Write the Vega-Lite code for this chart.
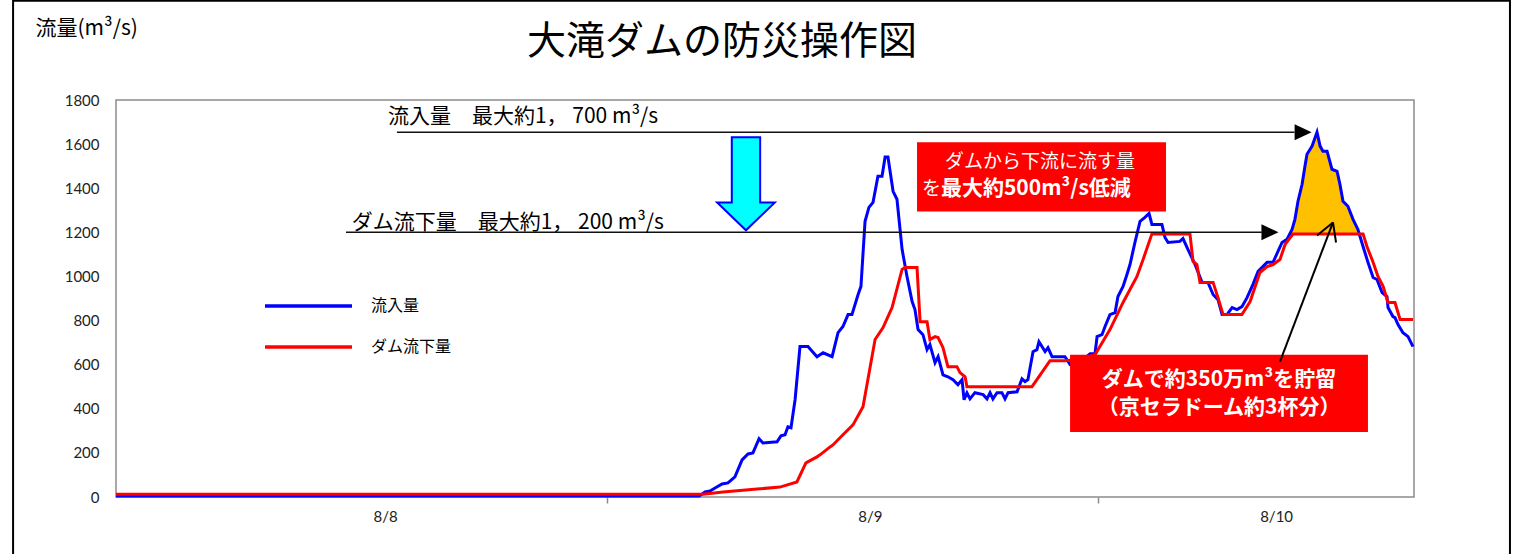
{
  "$schema": "https://vega.github.io/schema/vega-lite/v6.json",
  "width": 1298,
  "height": 397,
  "autosize": {"type": "none"},
  "padding": {"left": 116, "top": 100, "right": 103, "bottom": 57},
  "background": "white",
  "config": {
    "view": {"stroke": "#8c8c8c", "strokeWidth": 1.5},
    "font": "Noto Sans CJK JP"
  },
  "title": {
    "text": "大滝ダムの防災操作図",
    "anchor": "start",
    "frame": "group",
    "dx": 411,
    "offset": -93,
    "fontSize": 39,
    "fontWeight": "normal",
    "font": "Noto Sans CJK JP",
    "color": "#000000",
    "baseline": "alphabetic"
  },
  "datasets": {
    "flow": [
      {"h": 0, "v": 4, "s": "流入量"}, {"h": 28.5, "v": 4, "s": "流入量"}, {"h": 28.79, "v": 23, "s": "流入量"},
      {"h": 29.03, "v": 27, "s": "流入量"}, {"h": 29.28, "v": 41, "s": "流入量"}, {"h": 29.62, "v": 59, "s": "流入量"},
      {"h": 29.91, "v": 64, "s": "流入量"}, {"h": 30.25, "v": 91, "s": "流入量"}, {"h": 30.6, "v": 168, "s": "流入量"},
      {"h": 30.89, "v": 195, "s": "流入量"}, {"h": 31.13, "v": 200, "s": "流入量"}, {"h": 31.43, "v": 264, "s": "流入量"},
      {"h": 31.62, "v": 245, "s": "流入量"}, {"h": 32.31, "v": 250, "s": "流入量"}, {"h": 32.5, "v": 277, "s": "流入量"},
      {"h": 32.7, "v": 282, "s": "流入量"}, {"h": 32.84, "v": 318, "s": "流入量"}, {"h": 32.99, "v": 314, "s": "流入量"},
      {"h": 33.19, "v": 441, "s": "流入量"}, {"h": 33.43, "v": 682, "s": "流入量"}, {"h": 33.82, "v": 682, "s": "流入量"},
      {"h": 34.26, "v": 636, "s": "流入量"}, {"h": 34.56, "v": 654, "s": "流入量"}, {"h": 35.0, "v": 636, "s": "流入量"},
      {"h": 35.29, "v": 745, "s": "流入量"}, {"h": 35.53, "v": 773, "s": "流入量"}, {"h": 35.78, "v": 827, "s": "流入量"},
      {"h": 35.97, "v": 827, "s": "流入量"}, {"h": 36.27, "v": 918, "s": "流入量"}, {"h": 36.41, "v": 955, "s": "流入量"},
      {"h": 36.61, "v": 1250, "s": "流入量"}, {"h": 36.8, "v": 1313, "s": "流入量"}, {"h": 37.0, "v": 1336, "s": "流入量"},
      {"h": 37.24, "v": 1454, "s": "流入量"}, {"h": 37.44, "v": 1454, "s": "流入量"}, {"h": 37.59, "v": 1541, "s": "流入量"},
      {"h": 37.73, "v": 1541, "s": "流入量"}, {"h": 37.98, "v": 1386, "s": "流入量"}, {"h": 38.17, "v": 1350, "s": "流入量"},
      {"h": 38.42, "v": 1123, "s": "流入量"}, {"h": 38.66, "v": 1000, "s": "流入量"}, {"h": 38.91, "v": 886, "s": "流入量"},
      {"h": 39.05, "v": 850, "s": "流入量"}, {"h": 39.2, "v": 759, "s": "流入量"}, {"h": 39.44, "v": 736, "s": "流入量"},
      {"h": 39.64, "v": 668, "s": "流入量"}, {"h": 39.78, "v": 691, "s": "流入量"}, {"h": 40.03, "v": 609, "s": "流入量"},
      {"h": 40.18, "v": 636, "s": "流入量"}, {"h": 40.42, "v": 554, "s": "流入量"}, {"h": 40.66, "v": 545, "s": "流入量"},
      {"h": 40.91, "v": 532, "s": "流入量"}, {"h": 41.15, "v": 509, "s": "流入量"}, {"h": 41.35, "v": 532, "s": "流入量"},
      {"h": 41.45, "v": 441, "s": "流入量"}, {"h": 41.59, "v": 472, "s": "流入量"}, {"h": 41.74, "v": 445, "s": "流入量"},
      {"h": 41.98, "v": 473, "s": "流入量"}, {"h": 42.38, "v": 464, "s": "流入量"}, {"h": 42.57, "v": 445, "s": "流入量"},
      {"h": 42.72, "v": 473, "s": "流入量"}, {"h": 42.86, "v": 445, "s": "流入量"}, {"h": 43.06, "v": 473, "s": "流入量"},
      {"h": 43.3, "v": 473, "s": "流入量"}, {"h": 43.45, "v": 445, "s": "流入量"}, {"h": 43.6, "v": 473, "s": "流入量"},
      {"h": 44.04, "v": 477, "s": "流入量"}, {"h": 44.28, "v": 536, "s": "流入量"}, {"h": 44.43, "v": 523, "s": "流入量"},
      {"h": 44.57, "v": 532, "s": "流入量"}, {"h": 44.82, "v": 659, "s": "流入量"}, {"h": 45.01, "v": 668, "s": "流入量"},
      {"h": 45.11, "v": 704, "s": "流入量"}, {"h": 45.41, "v": 659, "s": "流入量"}, {"h": 45.55, "v": 677, "s": "流入量"},
      {"h": 45.75, "v": 636, "s": "流入量"}, {"h": 46.38, "v": 636, "s": "流入量"}, {"h": 46.63, "v": 600, "s": "流入量"},
      {"h": 47.1, "v": 610, "s": "流入量"}, {"h": 47.61, "v": 650, "s": "流入量"}, {"h": 47.85, "v": 650, "s": "流入量"},
      {"h": 47.95, "v": 727, "s": "流入量"}, {"h": 48.19, "v": 736, "s": "流入量"}, {"h": 48.34, "v": 773, "s": "流入量"},
      {"h": 48.58, "v": 827, "s": "流入量"}, {"h": 48.83, "v": 836, "s": "流入量"}, {"h": 48.97, "v": 909, "s": "流入量"},
      {"h": 49.22, "v": 955, "s": "流入量"}, {"h": 49.41, "v": 1009, "s": "流入量"}, {"h": 49.56, "v": 1054, "s": "流入量"},
      {"h": 49.8, "v": 1154, "s": "流入量"}, {"h": 50.05, "v": 1250, "s": "流入量"}, {"h": 50.29, "v": 1268, "s": "流入量"},
      {"h": 50.49, "v": 1286, "s": "流入量"}, {"h": 50.63, "v": 1236, "s": "流入量"}, {"h": 51.12, "v": 1236, "s": "流入量"},
      {"h": 51.27, "v": 1177, "s": "流入量"}, {"h": 51.42, "v": 1154, "s": "流入量"}, {"h": 52.0, "v": 1159, "s": "流入量"},
      {"h": 52.15, "v": 1172, "s": "流入量"}, {"h": 52.39, "v": 1123, "s": "流入量"}, {"h": 52.74, "v": 1054, "s": "流入量"},
      {"h": 53.08, "v": 973, "s": "流入量"}, {"h": 53.37, "v": 973, "s": "流入量"}, {"h": 53.62, "v": 918, "s": "流入量"},
      {"h": 53.86, "v": 895, "s": "流入量"}, {"h": 54.06, "v": 827, "s": "流入量"}, {"h": 54.3, "v": 827, "s": "流入量"},
      {"h": 54.55, "v": 859, "s": "流入量"}, {"h": 54.79, "v": 850, "s": "流入量"}, {"h": 55.03, "v": 863, "s": "流入量"},
      {"h": 55.28, "v": 904, "s": "流入量"}, {"h": 55.57, "v": 964, "s": "流入量"}, {"h": 55.82, "v": 1023, "s": "流入量"},
      {"h": 56.26, "v": 1064, "s": "流入量"}, {"h": 56.55, "v": 1064, "s": "流入量"}, {"h": 56.99, "v": 1154, "s": "流入量"},
      {"h": 57.23, "v": 1168, "s": "流入量"}, {"h": 57.48, "v": 1213, "s": "流入量"}, {"h": 57.62, "v": 1259, "s": "流入量"},
      {"h": 57.77, "v": 1341, "s": "流入量"}, {"h": 57.97, "v": 1418, "s": "流入量"}, {"h": 58.11, "v": 1500, "s": "流入量"},
      {"h": 58.21, "v": 1554, "s": "流入量"}, {"h": 58.46, "v": 1591, "s": "流入量"}, {"h": 58.7, "v": 1654, "s": "流入量"},
      {"h": 58.85, "v": 1591, "s": "流入量"}, {"h": 58.99, "v": 1568, "s": "流入量"}, {"h": 59.19, "v": 1568, "s": "流入量"},
      {"h": 59.43, "v": 1486, "s": "流入量"}, {"h": 59.68, "v": 1477, "s": "流入量"}, {"h": 59.82, "v": 1418, "s": "流入量"},
      {"h": 59.97, "v": 1341, "s": "流入量"}, {"h": 60.21, "v": 1318, "s": "流入量"}, {"h": 60.46, "v": 1259, "s": "流入量"},
      {"h": 60.7, "v": 1213, "s": "流入量"}, {"h": 60.95, "v": 1136, "s": "流入量"}, {"h": 61.19, "v": 1064, "s": "流入量"},
      {"h": 61.44, "v": 995, "s": "流入量"}, {"h": 61.63, "v": 986, "s": "流入量"}, {"h": 61.88, "v": 927, "s": "流入量"},
      {"h": 62.12, "v": 909, "s": "流入量"}, {"h": 62.17, "v": 859, "s": "流入量"}, {"h": 62.41, "v": 818, "s": "流入量"},
      {"h": 62.51, "v": 813, "s": "流入量"}, {"h": 62.66, "v": 782, "s": "流入量"}, {"h": 62.9, "v": 745, "s": "流入量"},
      {"h": 63.15, "v": 727, "s": "流入量"}, {"h": 63.39, "v": 682, "s": "流入量"},
      {"h": 0, "v": 12, "s": "ダム流下量"}, {"h": 28.69, "v": 12, "s": "ダム流下量"}, {"h": 29.67, "v": 23, "s": "ダム流下量"},
      {"h": 31.33, "v": 36, "s": "ダム流下量"}, {"h": 32.45, "v": 45, "s": "ダム流下量"}, {"h": 33.28, "v": 68, "s": "ダム流下量"},
      {"h": 33.72, "v": 155, "s": "ダム流下量"}, {"h": 34.26, "v": 182, "s": "ダム流下量"}, {"h": 34.41, "v": 191, "s": "ダム流下量"},
      {"h": 34.9, "v": 227, "s": "ダム流下量"}, {"h": 35.04, "v": 236, "s": "ダム流下量"}, {"h": 35.53, "v": 282, "s": "ダム流下量"},
      {"h": 36.02, "v": 327, "s": "ダム流下量"}, {"h": 36.51, "v": 409, "s": "ダム流下量"}, {"h": 37.1, "v": 714, "s": "ダム流下量"},
      {"h": 37.49, "v": 768, "s": "ダム流下量"}, {"h": 37.93, "v": 859, "s": "ダム流下量"}, {"h": 38.42, "v": 1032, "s": "ダム流下量"},
      {"h": 38.56, "v": 1041, "s": "ダム流下量"}, {"h": 39.15, "v": 1041, "s": "ダム流下量"}, {"h": 39.3, "v": 795, "s": "ダム流下量"},
      {"h": 39.64, "v": 795, "s": "ダム流下量"}, {"h": 39.78, "v": 714, "s": "ダム流下量"}, {"h": 40.03, "v": 727, "s": "ダム流下量"},
      {"h": 40.18, "v": 723, "s": "ダム流下量"}, {"h": 40.42, "v": 677, "s": "ダム流下量"}, {"h": 40.66, "v": 591, "s": "ダム流下量"},
      {"h": 41.1, "v": 591, "s": "ダム流下量"}, {"h": 41.25, "v": 564, "s": "ダム流下量"}, {"h": 41.5, "v": 545, "s": "ダム流下量"},
      {"h": 41.59, "v": 500, "s": "ダム流下量"}, {"h": 44.77, "v": 500, "s": "ダム流下量"}, {"h": 45.65, "v": 618, "s": "ダム流下量"},
      {"h": 46.38, "v": 618, "s": "ダム流下量"}, {"h": 47.1, "v": 625, "s": "ダム流下量"}, {"h": 47.85, "v": 645, "s": "ダム流下量"},
      {"h": 48.58, "v": 759, "s": "ダム流下量"}, {"h": 49.22, "v": 882, "s": "ダム流下量"}, {"h": 49.9, "v": 1000, "s": "ダム流下量"},
      {"h": 50.2, "v": 1077, "s": "ダム流下量"}, {"h": 50.63, "v": 1193, "s": "ダム流下量"}, {"h": 52.49, "v": 1193, "s": "ダム流下量"},
      {"h": 52.64, "v": 1068, "s": "ダム流下量"}, {"h": 52.83, "v": 1054, "s": "ダム流下量"}, {"h": 52.98, "v": 973, "s": "ダム流下量"},
      {"h": 53.62, "v": 973, "s": "ダム流下量"}, {"h": 53.86, "v": 904, "s": "ダム流下量"}, {"h": 54.11, "v": 827, "s": "ダム流下量"},
      {"h": 55.03, "v": 827, "s": "ダム流下量"}, {"h": 55.43, "v": 886, "s": "ダム流下量"}, {"h": 55.91, "v": 1018, "s": "ダム流下量"},
      {"h": 56.26, "v": 1045, "s": "ダム流下量"}, {"h": 56.55, "v": 1054, "s": "ダム流下量"}, {"h": 56.89, "v": 1077, "s": "ダム流下量"},
      {"h": 57.14, "v": 1145, "s": "ダム流下量"}, {"h": 57.53, "v": 1193, "s": "ダム流下量"}, {"h": 60.95, "v": 1193, "s": "ダム流下量"},
      {"h": 61.14, "v": 1136, "s": "ダム流下量"}, {"h": 61.44, "v": 1064, "s": "ダム流下量"}, {"h": 61.68, "v": 1000, "s": "ダム流下量"},
      {"h": 61.93, "v": 955, "s": "ダム流下量"}, {"h": 62.17, "v": 882, "s": "ダム流下量"}, {"h": 62.51, "v": 882, "s": "ダム流下量"},
      {"h": 62.76, "v": 805, "s": "ダム流下量"}, {"h": 63.39, "v": 805, "s": "ダム流下量"}
    ],
    "storage": [
      {"h": 57.38, "v": 1193}, {"h": 57.48, "v": 1213}, {"h": 57.62, "v": 1259}, {"h": 57.77, "v": 1341},
      {"h": 57.97, "v": 1418}, {"h": 58.11, "v": 1500}, {"h": 58.21, "v": 1554}, {"h": 58.46, "v": 1591},
      {"h": 58.7, "v": 1654}, {"h": 58.85, "v": 1591}, {"h": 58.99, "v": 1568}, {"h": 59.19, "v": 1568},
      {"h": 59.43, "v": 1486}, {"h": 59.68, "v": 1477}, {"h": 59.82, "v": 1418}, {"h": 59.97, "v": 1341},
      {"h": 60.21, "v": 1318}, {"h": 60.46, "v": 1259}, {"h": 60.7, "v": 1213}, {"h": 60.76, "v": 1193}
    ],
    "frame": [
      {"h": -5.03, "h2": 68.13, "v": 2250, "v2": -500}
    ],
    "guides": [
      {"h": 13.73, "h2": 57.6, "v": 1654, "v2": 1654},
      {"h": 11.24, "h2": 56.0, "v": 1200, "v2": 1200}
    ],
    "heads": [
      {"h": 58.02, "v": 1654},
      {"h": 56.4, "v": 1200}
    ],
    "pointer": [
      {"h": 56.89, "h2": 59.48, "v": 614, "v2": 1245},
      {"h": 59.48, "h2": 58.7, "v": 1245, "v2": 1186},
      {"h": 59.48, "h2": 59.63, "v": 1245, "v2": 1154}
    ],
    "bigarrow": [{"h": 30.79, "v": 1420}],
    "boxes": [
      {"h": 39.15, "h2": 51.32, "v": 1609, "v2": 1295},
      {"h": 46.63, "h2": 61.19, "v": 645, "v2": 295}
    ],
    "notes": [
      {"h": 13.29, "v": 1725, "t": "流入量　最大約1， 700 m³/s"},
      {"h": 11.52, "v": 1241, "t": "ダム流下量　最大約1， 200 m³/s"}
    ],
    "box1plain": [
      {"h": 45.16, "v": 1518, "t": "ダムから下流に流す量"}
    ],
    "box1wo": [
      {"h": 40.32, "v": 1395, "t": "を"}
    ],
    "box1bold": [
      {"h": 40.32, "v": 1395, "t": "最大約500m³/s低減"}
    ],
    "box2bold": [
      {"h": 53.91, "v": 532, "t": "ダムで約350万m³を貯留"},
      {"h": 53.91, "v": 405, "t": "（京セラドーム約3杯分）"}
    ]
  },
  "encoding": {
    "x": {
      "field": "h", "type": "quantitative",
      "scale": {"domain": [0, 63.44], "nice": false, "zero": false},
      "axis": {
        "title": null,
        "values": [13.15, 24, 36.85, 48, 56.7],
        "labelExpr": "datum.value < 20 ? '8/8' : (datum.value > 30 && datum.value < 40) ? '8/9' : datum.value > 50 ? '8/10' : ''",
        "domain": false,
        "grid": false,
        "tickSize": 6,
        "tickColor": "#8c8c8c",
        "tickWidth": 1.5,
        "tickOpacity": {"condition": {"test": "datum.value == 24 || datum.value == 48", "value": 1}, "value": 0},
        "labelPadding": 6,
        "labelFont": "Lato",
        "labelFontSize": 15,
        "labelColor": "#222222"
      }
    },
    "y": {
      "field": "v", "type": "quantitative",
      "scale": {"domain": [0, 1800], "nice": false},
      "axis": {
        "title": "流量(m³/s)",
        "titleAngle": 0,
        "titleAlign": "left",
        "titleBaseline": "middle",
        "titleX": -81,
        "titleY": -72,
        "titleFont": "Noto Sans CJK JP",
        "titleFontSize": 21,
        "titleFontWeight": "normal",
        "titleColor": "#000000",
        "values": [0, 200, 400, 600, 800, 1000, 1200, 1400, 1600, 1800],
        "format": "d",
        "domain": false,
        "grid": false,
        "ticks": false,
        "labelPadding": 17,
        "labelFont": "Lato",
        "labelFontSize": 15,
        "labelColor": "#222222"
      }
    }
  },
  "layer": [
    {
      "data": {"name": "frame"},
      "mark": {"type": "rect", "fill": null, "filled": false, "stroke": "#000000", "strokeWidth": 2, "clip": false},
      "encoding": {
        "x2": {"field": "h2"},
        "y2": {"field": "v2"}
      }
    },
    {
      "data": {"name": "storage"},
      "mark": {"type": "area", "color": "#FFC000"},
      "encoding": {
        "y2": {"datum": 1193}
      }
    },
    {
      "data": {"name": "flow"},
      "transform": [{"filter": "datum.s === '流入量'"}],
      "mark": {"type": "line", "strokeWidth": 3},
      "encoding": {
        "color": {
          "field": "s", "type": "nominal",
          "scale": {"domain": ["流入量", "ダム流下量"], "range": ["#0000FF", "#FF0000"]},
          "legend": {
            "title": null, "orient": "none", "legendX": 147, "legendY": 196,
            "symbolType": "stroke", "symbolSize": 7569, "symbolStrokeWidth": 3.5,
            "clipHeight": 20, "rowPadding": 21, "padding": 0,
            "labelFont": "Noto Sans CJK JP", "labelFontSize": 16, "labelColor": "#000000", "labelOffset": 17
          }
        }
      }
    },
    {
      "data": {"name": "flow"},
      "transform": [{"filter": "datum.s === 'ダム流下量'"}],
      "mark": {"type": "line", "strokeWidth": 3},
      "encoding": {
        "color": {
          "field": "s", "type": "nominal",
          "scale": {"domain": ["流入量", "ダム流下量"], "range": ["#0000FF", "#FF0000"]},
          "legend": {
            "title": null, "orient": "none", "legendX": 147, "legendY": 196,
            "symbolType": "stroke", "symbolSize": 7569, "symbolStrokeWidth": 3.5,
            "clipHeight": 20, "rowPadding": 21, "padding": 0,
            "labelFont": "Noto Sans CJK JP", "labelFontSize": 16, "labelColor": "#000000", "labelOffset": 17
          }
        }
      }
    },
    {
      "data": {"name": "guides"},
      "mark": {"type": "rule", "color": "#111111", "strokeWidth": 1.5},
      "encoding": {
        "x2": {"field": "h2"},
        "y2": {"field": "v2"}
      }
    },
    {
      "data": {"name": "heads"},
      "mark": {"type": "point", "shape": "M -1 -0.94 L 1 0 L -1 0.94 Z", "size": 289, "filled": true, "color": "#000000", "opacity": 1}
    },
    {
      "data": {"name": "bigarrow"},
      "mark": {"type": "point", "shape": "M -0.305 -1 L 0.305 -1 L 0.305 0.4 L 0.62 0.4 L 0 1 L -0.62 0.4 L -0.305 0.4 Z", "size": 8649, "filled": true, "fill": "#00FFFF", "stroke": "#0000FF", "strokeWidth": 2, "opacity": 1}
    },
    {
      "data": {"name": "boxes"},
      "mark": {"type": "rect", "color": "#FF0000", "opacity": 1},
      "encoding": {
        "x2": {"field": "h2"},
        "y2": {"field": "v2"}
      }
    },
    {
      "data": {"name": "notes"},
      "mark": {"type": "text", "align": "left", "baseline": "middle", "fontSize": 21, "font": "Noto Sans CJK JP", "color": "#000000"},
      "encoding": {"text": {"field": "t"}}
    },
    {
      "data": {"name": "box1plain"},
      "mark": {"type": "text", "align": "center", "baseline": "middle", "fontSize": 19, "font": "Noto Sans CJK JP", "color": "#FFFFFF"},
      "encoding": {"text": {"field": "t"}}
    },
    {
      "data": {"name": "box1wo"},
      "mark": {"type": "text", "align": "right", "baseline": "middle", "fontSize": 19, "font": "Noto Sans CJK JP", "color": "#FFFFFF"},
      "encoding": {"text": {"field": "t"}}
    },
    {
      "data": {"name": "box1bold"},
      "mark": {"type": "text", "align": "left", "baseline": "middle", "fontSize": 21, "fontWeight": "bold", "font": "Noto Sans CJK JP", "color": "#FFFFFF"},
      "encoding": {"text": {"field": "t"}}
    },
    {
      "data": {"name": "box2bold"},
      "mark": {"type": "text", "align": "center", "baseline": "middle", "fontSize": 21, "fontWeight": "bold", "font": "Noto Sans CJK JP", "color": "#FFFFFF"},
      "encoding": {"text": {"field": "t"}}
    },
    {
      "data": {"name": "pointer"},
      "mark": {"type": "rule", "color": "#000000", "strokeWidth": 2},
      "encoding": {
        "x2": {"field": "h2"},
        "y2": {"field": "v2"}
      }
    }
  ]
}
